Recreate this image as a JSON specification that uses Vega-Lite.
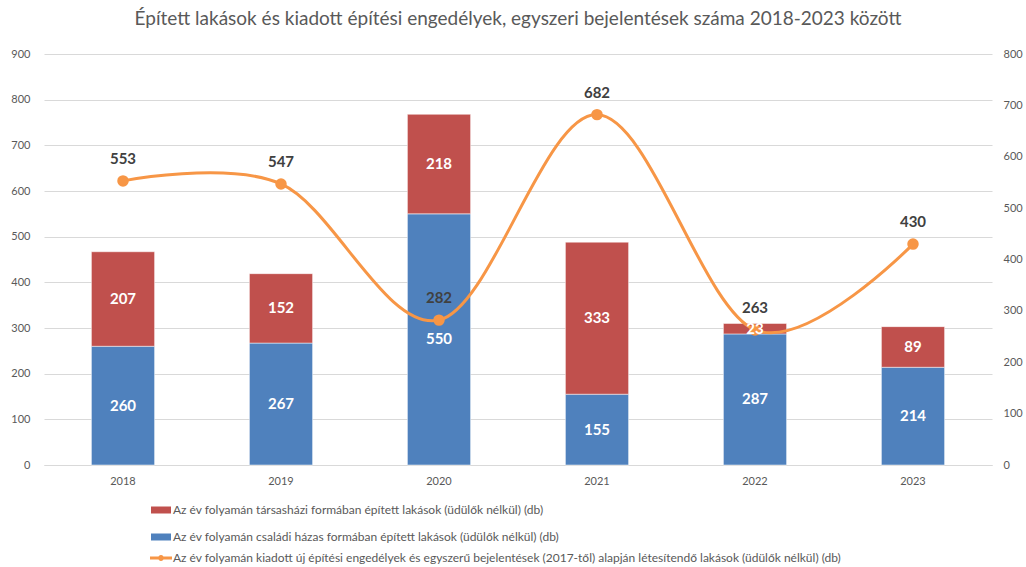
{
  "$schema": "https://vega.github.io/schema/vega-lite/v6.json",
  "width": 948,
  "height": 411,
  "autosize": {"type": "none"},
  "padding": {"left": 44, "top": 54, "right": 34, "bottom": 102},
  "background": "white",
  "title": {
    "text": "Épített lakások és kiadott építési engedélyek, egyszeri bejelentések száma 2018-2023 között",
    "font": "Lato",
    "fontSize": 19,
    "fontWeight": "normal",
    "color": "#595959",
    "anchor": "middle",
    "offset": 19
  },
  "config": {
    "view": {"stroke": null},
    "font": "Lato",
    "axis": {"labelFont": "Lato", "labelFontSize": 11, "labelColor": "#595959", "ticks": false},
    "legend": {"labelFont": "Lato", "labelFontSize": 12, "labelColor": "#595959", "padding": 0, "labelLimit": 900}
  },
  "datasets": {
    "bars": [
      {"year": "2018", "series": "Az év folyamán családi házas formában épített lakások (üdülők nélkül) (db)", "ord": 1, "value": 260},
      {"year": "2018", "series": "Az év folyamán társasházi formában épített lakások (üdülők nélkül) (db)", "ord": 2, "value": 207},
      {"year": "2019", "series": "Az év folyamán családi házas formában épített lakások (üdülők nélkül) (db)", "ord": 1, "value": 267},
      {"year": "2019", "series": "Az év folyamán társasházi formában épített lakások (üdülők nélkül) (db)", "ord": 2, "value": 152},
      {"year": "2020", "series": "Az év folyamán családi házas formában épített lakások (üdülők nélkül) (db)", "ord": 1, "value": 550},
      {"year": "2020", "series": "Az év folyamán társasházi formában épített lakások (üdülők nélkül) (db)", "ord": 2, "value": 218},
      {"year": "2021", "series": "Az év folyamán családi házas formában épített lakások (üdülők nélkül) (db)", "ord": 1, "value": 155},
      {"year": "2021", "series": "Az év folyamán társasházi formában épített lakások (üdülők nélkül) (db)", "ord": 2, "value": 333},
      {"year": "2022", "series": "Az év folyamán családi házas formában épített lakások (üdülők nélkül) (db)", "ord": 1, "value": 287},
      {"year": "2022", "series": "Az év folyamán társasházi formában épített lakások (üdülők nélkül) (db)", "ord": 2, "value": 23},
      {"year": "2023", "series": "Az év folyamán családi házas formában épített lakások (üdülők nélkül) (db)", "ord": 1, "value": 214},
      {"year": "2023", "series": "Az év folyamán társasházi formában épített lakások (üdülők nélkül) (db)", "ord": 2, "value": 89}
    ],
    "line": [
      {"year": "2018", "series": "Az év folyamán kiadott új építési engedélyek és egyszerű bejelentések (2017-től) alapján létesítendő lakások (üdülők nélkül) (db)", "value": 553},
      {"year": "2019", "series": "Az év folyamán kiadott új építési engedélyek és egyszerű bejelentések (2017-től) alapján létesítendő lakások (üdülők nélkül) (db)", "value": 547},
      {"year": "2020", "series": "Az év folyamán kiadott új építési engedélyek és egyszerű bejelentések (2017-től) alapján létesítendő lakások (üdülők nélkül) (db)", "value": 282},
      {"year": "2021", "series": "Az év folyamán kiadott új építési engedélyek és egyszerű bejelentések (2017-től) alapján létesítendő lakások (üdülők nélkül) (db)", "value": 682},
      {"year": "2022", "series": "Az év folyamán kiadott új építési engedélyek és egyszerű bejelentések (2017-től) alapján létesítendő lakások (üdülők nélkül) (db)", "value": 263},
      {"year": "2023", "series": "Az év folyamán kiadott új építési engedélyek és egyszerű bejelentések (2017-től) alapján létesítendő lakások (üdülők nélkül) (db)", "value": 430}
    ]
  },
  "encoding": {
    "x": {
      "field": "year", "type": "nominal", "title": null,
      "scale": {"paddingInner": 0.6, "paddingOuter": 0.3},
      "axis": {"labelAngle": 0, "domainColor": "#d9d9d9", "labelPadding": 10, "grid": false}
    }
  },
  "layer": [
    {
      "data": {"name": "bars"},
      "transform": [
        {"stack": "value", "groupby": ["year"], "sort": [{"field": "ord", "order": "ascending"}], "as": ["v0", "v1"]}
      ],
      "mark": {"type": "bar", "stroke": "white", "strokeWidth": 0.5},
      "encoding": {
        "y": {"field": "v0", "type": "quantitative", "title": null,
          "scale": {"domain": [0, 900]},
          "axis": {"values": [0,100,200,300,400,500,600,700,800,900], "domain": false, "grid": true, "gridColor": "#d9d9d9", "labelPadding": 14, "orient": "left"}},
        "y2": {"field": "v1"},
        "color": {
          "field": "series", "type": "nominal", "title": null,
          "scale": {
            "domain": ["Az év folyamán társasházi formában épített lakások (üdülők nélkül) (db)", "Az év folyamán családi házas formában épített lakások (üdülők nélkül) (db)"],
            "range": ["#C0504D", "#4F81BD"]
          },
          "legend": {
            "orient": "none", "legendX": 107, "legendY": 446, "direction": "vertical",
            "symbolType": "M-1,-0.35H1V0.35H-1Z", "symbolSize": 400, "symbolStrokeWidth": 0,
            "rowPadding": 11, "labelOffset": 2
          }
        }
      }
    },
    {
      "data": {"name": "line"},
      "mark": {"type": "line", "interpolate": "cardinal", "strokeWidth": 3, "point": {"filled": true, "size": 90, "color": "#F79646"}},
      "encoding": {
        "y": {"field": "value", "type": "quantitative", "title": null,
          "scale": {"domain": [0, 800]},
          "axis": {"orient": "right", "values": [0,100,200,300,400,500,600,700,800], "domain": false, "grid": false, "labelPadding": 11}},
        "stroke": {
          "field": "series", "type": "nominal", "title": null,
          "scale": {"range": ["#F79646"]},
          "legend": {
            "orient": "none", "legendX": 107, "legendY": 494,
            "symbolType": "M-1.1,-0.15H-0.28V0.15H-1.1Z M0.28,-0.15H1.1V0.15H0.28Z M0.3,0A0.3,0.3 0 1,1 -0.3,0A0.3,0.3 0 1,1 0.3,0Z",
            "symbolSize": 400, "symbolFillColor": "#F79646", "symbolStrokeWidth": 0, "labelOffset": 2
          }
        }
      }
    },
    {
      "data": {"name": "bars"},
      "transform": [
        {"stack": "value", "groupby": ["year"], "sort": [{"field": "ord", "order": "ascending"}], "as": ["v0", "v1"]},
        {"calculate": "(datum.v0 + datum.v1) / 2", "as": "mid"}
      ],
      "mark": {"type": "text", "font": "Lato", "fontSize": 15, "fontWeight": "bold", "color": "white", "baseline": "middle"},
      "encoding": {
        "y": {"field": "mid", "type": "quantitative", "title": null, "scale": {"domain": [0, 900]}, "axis": null},
        "text": {"field": "value", "type": "quantitative"}
      }
    },
    {
      "data": {"name": "line"},
      "mark": {"type": "text", "font": "Lato", "fontSize": 15, "fontWeight": "bold", "color": "#404040", "baseline": "middle", "dy": -22},
      "encoding": {
        "y": {"field": "value", "type": "quantitative", "title": null, "scale": {"domain": [0, 800]}, "axis": null},
        "text": {"field": "value", "type": "quantitative"}
      }
    }
  ],
  "resolve": {"scale": {"y": "independent", "color": "independent"}}
}
